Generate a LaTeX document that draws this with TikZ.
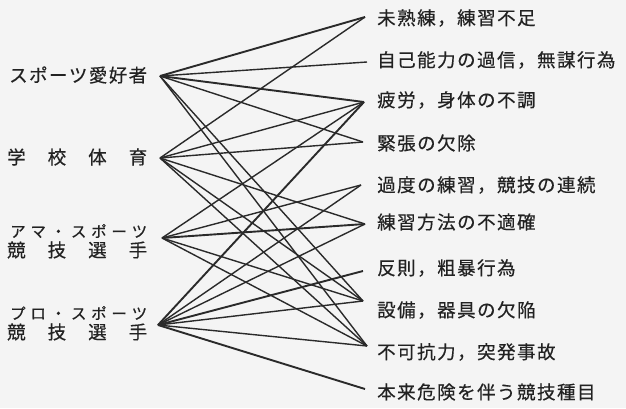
\documentclass[tikz,border=0pt]{standalone}
\usepackage{fontspec}
\newfontfamily\jpfont[LetterSpace=8,FakeBold=0.4]{Noto Sans CJK JP}
\newfontfamily\jpplain[FakeBold=0.4]{Noto Sans CJK JP}
\definecolor{ink}{HTML}{2A2A2A}
\definecolor{txt}{HTML}{222222}
\definecolor{paper}{HTML}{F4F4F4}
\begin{document}
\begin{tikzpicture}[x=1pt,y=-1pt,
  lab/.style={anchor=west,inner sep=0pt,text=txt,font=\jpfont\fontsize{18.5}{20}\selectfont},
  leftlab/.style={anchor=west,inner sep=0pt,text=txt,font=\jpplain\fontsize{18.5}{20}\selectfont},
  smalllab/.style={anchor=west,inner sep=0pt,text=txt,font=\jpplain\fontsize{15.5}{16}\selectfont},
  link/.style={draw=ink,line width=1.4pt},
  heavy/.style={draw=ink,line width=1.9pt}]
\useasboundingbox[fill=paper] (0,0) rectangle (626,408);
% left labels
\node[leftlab] (tS) at (9,75) {\makebox[138pt][s]{ス\hfill ポ\hfill ー\hfill ツ\hfill 愛\hfill 好\hfill 者}};
\node[leftlab] (tG) at (7,157) {\makebox[140pt][s]{学\hfill 校\hfill 体\hfill 育}};
\node[smalllab] (tA1) at (10,231) {\makebox[137pt][s]{ア\hfill マ\hfill ・\hfill ス\hfill ポ\hfill ー\hfill ツ}};
\node[leftlab] (tA2) at (7,250) {\makebox[140pt][s]{競\hfill 技\hfill 選\hfill 手}};
\node[smalllab] (tP1) at (10,313) {\makebox[137pt][s]{プ\hfill ロ\hfill ・\hfill ス\hfill ポ\hfill ー\hfill ツ}};
\node[leftlab] (tP2) at (7,332) {\makebox[140pt][s]{競\hfill 技\hfill 選\hfill 手}};
% right labels
\node[lab] (t1) at (377,18) {未熟練，練習不足};
\node[lab] (t2) at (377,60) {自己能力の過信，無謀行為};
\node[lab] (t3) at (377,100) {疲労，身体の不調};
\node[lab] (t4) at (377,143) {緊張の欠除};
\node[lab] (t5) at (377,185) {過度の練習，競技の連続};
\node[lab] (t6) at (377,222) {練習方法の不適確};
\node[lab] (t7) at (377,268) {反則，粗暴行為};
\node[lab] (t8) at (377,310) {設備，器具の欠陥};
\node[lab] (t9) at (377,352) {不可抗力，突発事故};
\node[lab] (t10) at (377,392) {本来危険を伴う競技種目};
% junction points
\coordinate (S) at (160,76);
\coordinate (G) at (160,158);
\coordinate (A) at (162,238);
\coordinate (P) at (158,325);
\coordinate (R1) at (365,17);
\coordinate (R2) at (367,62);
\coordinate (R3) at (364,102);
\coordinate (R4) at (363,142);
\coordinate (R5) at (361,185);
\coordinate (R6) at (365,224);
\coordinate (R7) at (363,271);
\coordinate (R8) at (363,301);
\coordinate (R9) at (367,346);
\coordinate (R10) at (365,389);
% connectors
\draw[heavy] (S) -- (R1);
\draw[link] (S) -- (R2);
\draw[heavy] (S) -- (R3);
\draw[link] (S) -- (R4);
\draw[link] (S) -- (R8);
\draw[link] (S) -- (R9);
\draw[link] (G) -- (R1);
\draw[link] (G) -- (R3);
\draw[link] (G) -- (R4);
\draw[link] (G) -- (R6);
\draw[link] (G) -- (R8);
\draw[link] (G) -- (R9);
\draw[link] (A) -- (R3);
\draw[link] (A) -- (R5);
\draw[heavy] (A) -- (R6);
\draw[link] (A) -- (R8);
\draw[link] (A) -- (R9);
\draw[heavy] (P) -- (R3);
\draw[link] (P) -- (R5);
\draw[link] (P) -- (R6);
\draw[heavy] (P) -- (R7);
\draw[link] (P) -- (R8);
\draw[link] (P) -- (R9);
\draw[heavy] (P) -- (R10);
\end{tikzpicture}
\end{document}
